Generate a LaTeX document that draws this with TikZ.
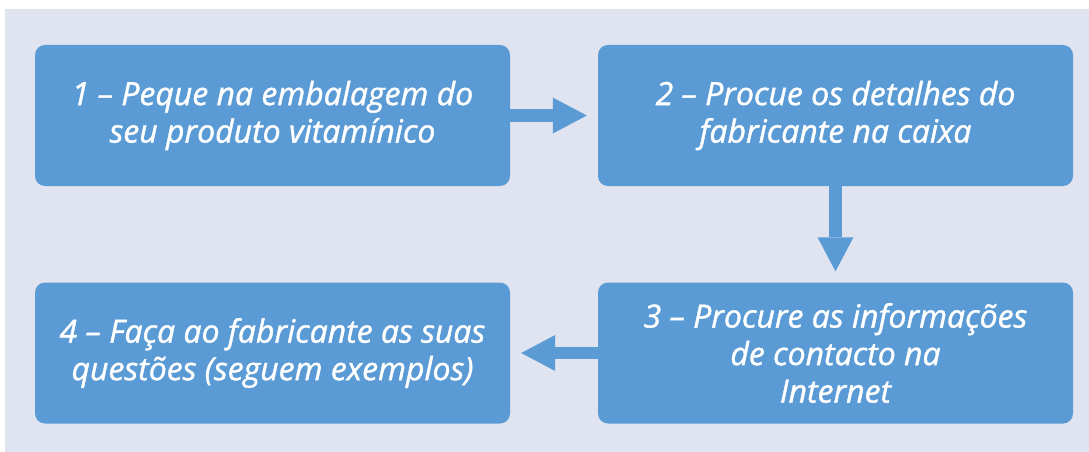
\documentclass[tikz,border=0pt]{standalone}
\usepackage{fontspec}
\setmainfont{Open Sans}[ItalicFeatures={FakeBold=1.2}]
\usetikzlibrary{arrows.meta}
\definecolor{fundo}{HTML}{DFE4F0}
\definecolor{caixa}{HTML}{5B9BD5}
\tikzset{
  etapa/.style={fill=caixa, rounded corners=10pt, minimum width=475pt, minimum height=141pt,
    text=white, align=center, inner sep=0pt,
    font=\fontsize{32}{37.5}\selectfont\itshape},
  seta/.style={draw=caixa, line width=12.5pt, shorten >=11pt,
    -{Triangle[length=34pt,width=36pt,line width=0pt]}}
}
\begin{document}
\begin{tikzpicture}[x=1pt,y=-1pt]
                    \useasboundingbox (0,0) rectangle (1089,452);
                    % Drawing background
                    \fill [fundo] (5,9) rectangle (1089,452);%
                    
                    % Drawing box 1
                    \node [etapa] (passo1) at (272.5,115.5) {1 – Peque na embalagem do\\seu produto vitamínico};%
                    
                    % Drawing box 2
                    \node [etapa] (passo2) at (835.5,115.5) {2 – Procue os detalhes do\\fabricante na caixa};%
                    
                    % Drawing box 3
                    \node [etapa] (passo3) at (835.5,353) {3 – Procure as informações\\de contacto na\\Internet};%
                    
                    % Drawing box 4
                    \node [etapa] (passo4) at (272.5,353) {4 – Faça ao fabricante as suas\\questões (seguem exemplos)};%
                    
                    % Drawing arrows
                    \draw [seta] (passo1.east) -- (passo2.west);%
                    \draw [seta] (passo2.south) -- (passo3.north);%
                    \draw [seta] (passo3.west) -- (passo4.east);%
\end{tikzpicture}
\end{document}
